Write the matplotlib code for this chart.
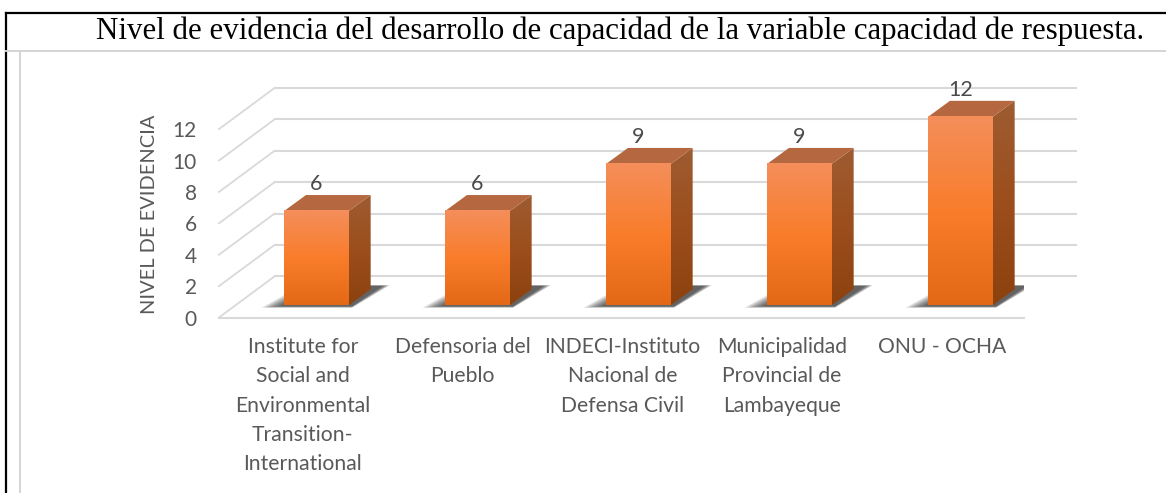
#!/usr/bin/env python

import numpy as np
from matplotlib import pyplot
from matplotlib.lines import Line2D
from matplotlib.patches import Polygon

categories = [
    "Institute for\nSocial and\nEnvironmental\nTransition-\nInternational",
    "Defensoria del\nPueblo",
    "INDECI-Instituto\nNacional de\nDefensa Civil",
    "Municipalidad\nProvincial de\nLambayeque",
    "ONU - OCHA",
]
values = [6, 6, 9, 9, 12]
yticks = [0, 2, 4, 6, 8, 10, 12]
title = "Nivel de evidencia del desarrollo de capacidad de la variable capacidad de respuesta."

W, H = 1166, 493
TXT = "#595959"
GRID = "#d9d9d9"

# depth of the fake 3d floor and of the bars, in data units
floor_dx, floor_dy = 0.345, 2.62
bar_x, bar_y = 0.105, 0.78
bar_w = 0.402
depth_dx, depth_dy = 0.136, 1.02

pyplot.rcParams["font.family"] = ["Lato", "DejaVu Sans"]
fig = pyplot.figure(figsize=(W / 100, H / 100), dpi=100)

# frame of the document table around the chart
fig.add_artist(Line2D([6 / W, 1], [1 - 13 / H] * 2, color="k", lw=1.6))
fig.add_artist(Line2D([6 / W, 6 / W], [0, 1 - 13 / H], color="k", lw=1.6))
fig.add_artist(Line2D([6 / W, 1], [1 - 51 / H] * 2, color="#d4d4d4", lw=1.4))
fig.add_artist(Line2D([20 / W, 20 / W], [0, 1 - 51 / H], color="#d4d4d4", lw=1.4))
fig.text(96 / W, 1 - 31 / H, title, family="Liberation Serif", fontsize=22.24, color="k", va="center", ha="left")

ax = fig.add_axes([219 / W, 1 - 317.5 / H, 805 / W, 257.5 / H])
ax.patch.set_alpha(0)
for s in ax.spines.values():
    s.set_visible(False)

x0, x1 = -0.5, 4.5
for v in yticks:
    ax.plot([x0, x0 + floor_dx], [v, v + floor_dy], color=GRID, lw=1.3, clip_on=False, zorder=1)
    ax.plot([x0 + floor_dx, x1 + floor_dx - 0.02], [v + floor_dy] * 2, color=GRID, lw=1.5, clip_on=False, zorder=1)
ax.plot([x0, x1], [0, 0], color=GRID, lw=1.5, clip_on=False, zorder=1)

front_cmap = np.array([[244, 142, 90], [249, 125, 43], [228, 105, 22]]) / 255
side_cmap = np.array([[158, 92, 50], [156, 78, 28], [140, 66, 14]]) / 255


def gradient(stops, n=64):
    t = np.linspace(0, 1, n)
    pos = np.array([0, 0.5, 1])
    img = [np.interp(t, pos, stops[:, c]) for c in range(3)]
    return np.stack(img, axis=-1)[:, None, :]


for i, v in enumerate(values):
    l = i - bar_w / 2 + bar_x
    r = i + bar_w / 2 + bar_x
    b = bar_y
    t = v + bar_y

    # soft shadow on the floor, a few stacked layers
    for grow in np.linspace(1, 0, 9):
        sx = 0.02 + 0.12 * grow
        sy = 0.06 + 0.1 * grow
        ax.add_patch(Polygon(
            [[l - sx, b - sy], [r + 0.02, b - sy],
             [r + 0.2 + sx * 0.4, b + 1.2 + sy * 0.5], [l - sx + 0.25, b + 1.2 + sy * 0.5]],
            closed=True, fc="#202020", ec="none", alpha=0.12, zorder=2))

    ax.imshow(gradient(front_cmap), extent=[l, r, b, t], aspect="auto", origin="upper", zorder=4, interpolation="bilinear")
    side = Polygon([[r, b], [r + depth_dx, b + depth_dy], [r + depth_dx, t + depth_dy], [r, t]],
                   closed=True, fc="none", ec="none", transform=ax.transData)
    ax.add_patch(side)
    im = ax.imshow(gradient(side_cmap), extent=[r, r + depth_dx, b, t + depth_dy], aspect="auto", origin="upper",
                   zorder=3, interpolation="bilinear")
    im.set_clip_path(side)
    ax.add_patch(Polygon([[l, t], [r, t], [r + depth_dx, t + depth_dy], [l + depth_dx, t + depth_dy]],
                         closed=True, fc="#b5683f", ec="none", zorder=3))
    ax.text(i + bar_x, t + depth_dy + 0.7, str(v), ha="center", va="center", fontsize=15.5, color="#4a4a4a", zorder=5)

ax.set_xlim(x0, x1)
ax.set_ylim(0, 257.5 / 15.7)

ax.set_yticks(yticks)
ax.set_yticklabels([str(v) for v in yticks], fontsize=15, color=TXT)
ax.set_xticks(np.linspace(0.02, 3.99, len(categories)))
ax.set_xticklabels(categories, fontsize=15.2, color=TXT, linespacing=1.58, va="top")
ax.tick_params(axis="y", length=0, pad=16)
ax.tick_params(axis="x", length=0, pad=14)
ax.set_ylabel("NIVEL DE EVIDENCIA", fontsize=14.4, color=TXT)
ax.yaxis.set_label_coords(-61 / 805, 0.40)

fig.savefig("out.png", dpi=100)
